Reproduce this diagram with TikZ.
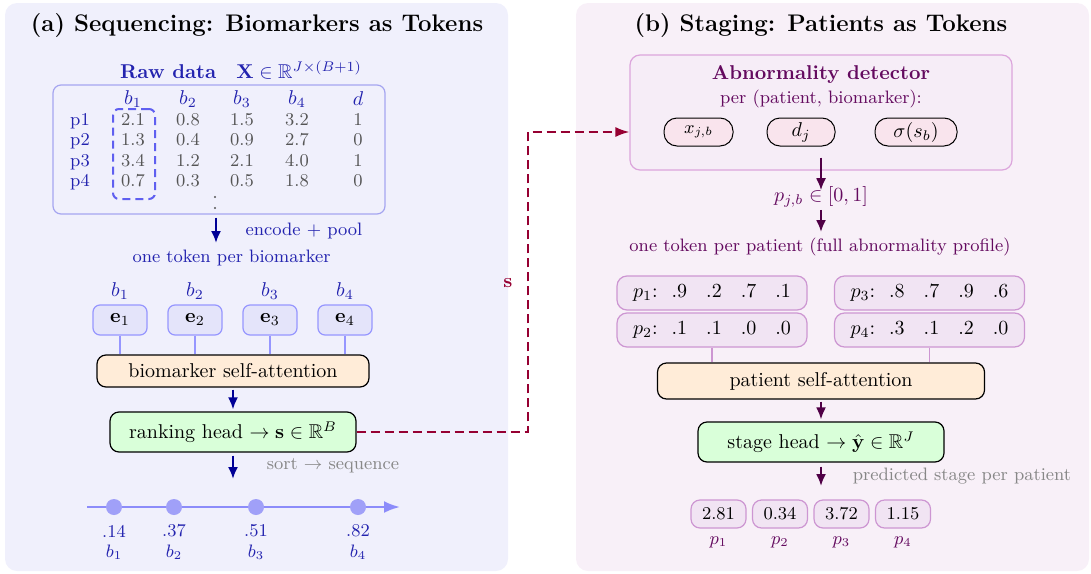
\documentclass[tikz,border=0pt]{standalone}
\usepackage{amsmath,amssymb}
\usetikzlibrary{arrows.meta}

\definecolor{panelA}{RGB}{240,240,252}
\definecolor{panelB}{RGB}{248,240,248}
\definecolor{txtblue}{RGB}{35,35,175}
\definecolor{arrblue}{RGB}{0,0,150}
\definecolor{tokfill}{RGB}{228,228,250}
\definecolor{tokline}{RGB}{150,150,255}
\definecolor{frameblue}{RGB}{165,165,240}
\definecolor{dashblue}{RGB}{95,95,240}
\definecolor{attnfill}{RGB}{255,236,216}
\definecolor{headfill}{RGB}{217,255,217}
\definecolor{seqblue}{RGB}{140,140,250}
\definecolor{seqdot}{RGB}{160,160,248}
\definecolor{linkred}{RGB}{150,0,50}
\definecolor{txtpurple}{RGB}{100,10,95}
\definecolor{arrpurple}{RGB}{80,0,70}
\definecolor{detline}{RGB}{220,165,220}
\definecolor{detfill}{RGB}{246,237,247}
\definecolor{inpfill}{RGB}{249,228,237}
\definecolor{patfill}{RGB}{241,228,243}
\definecolor{patline}{RGB}{205,150,210}
\definecolor{greytxt}{RGB}{135,135,135}
\definecolor{valgrey}{RGB}{85,85,85}

\newcommand{\ptokrow}[5]{$p_{#1}$:\hspace{7pt}#2\hspace{9.5pt}#3\hspace{9.5pt}#4\hspace{9.5pt}#5}

\tikzset{
  panel/.style={rounded corners=6pt},
  etok/.style={draw=tokline, fill=tokfill, rounded corners=3.5pt, line width=0.6pt,
    minimum width=27pt, minimum height=15pt, inner sep=0pt},
  blockbox/.style={draw=black, rounded corners=4.5pt, line width=0.6pt, inner sep=0pt},
  attn/.style={blockbox, fill=attnfill},
  headbox/.style={blockbox, fill=headfill},
  flow/.style={arrblue, line width=1pt, -{Latex[length=6pt,width=5pt]}},
  flowp/.style={arrpurple, line width=1pt, -{Latex[length=6pt,width=5pt]}},
  cell/.style={valgrey, font=\small, text height=1.5ex, text depth=0.2ex, inner sep=0pt},
  rowlbl/.style={txtblue, font=\small, text height=1.5ex, text depth=0.2ex, inner sep=0pt},
  bluetxt/.style={txtblue, inner sep=0pt},
  purptxt/.style={txtpurple, inner sep=0pt},
  inp/.style={draw=black, fill=inpfill, rounded corners=6.5pt, line width=0.5pt,
    minimum height=14pt, inner sep=0pt},
  pat/.style={draw=patline, fill=patfill, rounded corners=5pt, line width=0.6pt,
    minimum width=95pt, minimum height=17pt, inner sep=0pt},
  outbox/.style={draw=patline, fill=patfill, rounded corners=4.5pt, line width=0.6pt,
    minimum width=27.5pt, minimum height=14pt, inner sep=0pt, font=\small},
}

\begin{document}
\begin{tikzpicture}[x=0.5pt, y=-0.5pt]
\useasboundingbox (0,0) rectangle (1091,573);

% panels
\fill[panelA, panel] (5,3) rectangle (508,571);
\fill[panelB, panel] (576,3) rectangle (1089,571);

% ---------- (a) sequencing ----------
\node[font=\large\bfseries, inner sep=0pt] (ta) at (257,26) {(a) Sequencing: Biomarkers as Tokens};

\node[bluetxt] (rawttl) at (241,70) {\textbf{Raw data}\quad$\mathbf{X}\in\mathbb{R}^{J\times(B+1)}$};

\node[draw=frameblue, rounded corners=4pt, line width=0.6pt, minimum width=166pt,
      minimum height=64.5pt, inner sep=0pt] (raw) at (219,149.5) {};
\node[draw=dashblue, dashed, dash pattern=on 4pt off 2.5pt, line width=1pt, rounded corners=3pt,
      minimum width=21pt, minimum height=45pt, inner sep=0pt] (col1) at (134,154) {};

\foreach \c/\x in {1/133,2/188,3/242,4/297}
  \node[bluetxt] (hb\c) at (\x,99) {$b_{\c}$};
\node[bluetxt] (hd) at (358,99) {$d$};

\foreach \r/\y/\va/\vb/\vc/\vd/\ve in {1/120/2.1/0.8/1.5/3.2/1, 2/140/1.3/0.4/0.9/2.7/0,
                                      3/161/3.4/1.2/2.1/4.0/1, 4/181/0.7/0.3/0.5/1.8/0}{
  \node[rowlbl] (r\r) at (80,\y) {p\r};
  \node[cell] (v\r a) at (133,\y) {\va};
  \node[cell] (v\r b) at (188,\y) {\vb};
  \node[cell] (v\r c) at (242,\y) {\vc};
  \node[cell] (v\r d) at (297,\y) {\vd};
  \node[cell] (v\r e) at (358,\y) {\ve};
}
% further rows of the table
\fill[valgrey] (215,197) circle (0.6pt) (215,208) circle (0.6pt);

\coordinate (a1) at (216,243);
\draw[flow] ([yshift=-1.5pt]raw.south -| a1) -- (a1);
\node[bluetxt, font=\small] (enc) at (304,231) {encode + pool};
\node[bluetxt, font=\small] (tokdesc) at (231.5,258) {one token per biomarker};

\foreach \i/\x in {1/120,2/195,3/270,4/345}{
  \node[bluetxt] (lb\i) at (\x,291) {$b_{\i}$};
  \node[etok] (e\i) at (\x,320) {$\mathbf{e}_{\i}$};
}

\node[attn, minimum width=136pt, minimum height=16pt] (battn) at (233,371) {biomarker self-attention};
\foreach \i in {1,...,4}
  \draw[tokline, line width=0.6pt] (e\i.south) -- (e\i.south |- battn.north);

\node[headbox, minimum width=123pt, minimum height=20pt] (rank) at (233,432)
  {ranking head $\rightarrow \mathbf{s}\in\mathbb{R}^{B}$};
\draw[flow, shorten <=1pt, shorten >=1pt] (battn.south) -- (rank.north);

\coordinate (a2) at (233,479);
\draw[flow] ([yshift=-1.5pt]rank.south) -- (a2);
\node[greytxt, font=\small] (sortlbl) at (333,466) {sort $\rightarrow$ sequence};

% sorted sequence
\coordinate (ax0) at (87,507);
\coordinate (ax1) at (400,507);
\draw[seqblue, line width=1.2pt, -{Latex[length=8pt,width=6pt]}] (ax0) -- (ax1);
\foreach \i/\x/\v in {1/114/.14,2/174/.37,3/256/.51,4/358/.82}{
  \node[circle, fill=seqdot, minimum size=8pt, inner sep=0pt] (dot\i) at (\x,507) {};
  \node[bluetxt, font=\small] (sv\i) at (\x,531) {\v};
  \node[bluetxt, font=\small] (sb\i) at (\x,552) {$b_{\i}$};
}

% ---------- (b) staging ----------
\node[font=\large\bfseries, inner sep=0pt] (tb) at (821,26) {(b) Staging: Patients as Tokens};

\node[draw=detline, fill=detfill, rounded corners=5pt, line width=0.6pt,
      minimum width=191pt, minimum height=57.5pt, inner sep=0pt] (det) at (821,112.5) {};
\node[purptxt, font=\bfseries] (detttl) at (821,75) {Abnormality detector};
\node[purptxt, font=\small] (detsub) at (821,99) {per (patient, biomarker):};
\node[inp, minimum width=34.5pt] (xin) at (698.5,132) {\small$x_{j,b}$};
\node[inp, minimum width=34pt] (din) at (801,132) {$d_j$};
\node[inp, minimum width=41pt] (sin) at (916,132) {$\sigma(s_b)$};

% score vector passed on to the detector
\coordinate (sx) at (528,0);
\draw[linkred, line width=0.9pt, dash pattern=on 4.5pt off 2.5pt, -{Latex[length=7pt,width=5pt]}]
  (rank.east) -- (rank.east -| sx) -- (sx |- xin) -- (det.west |- xin);
\node[linkred, inner sep=0pt] (slbl) at (508,283) {$\mathbf{s}$};

\node[purptxt] (pjb) at (821,197) {$p_{j,b}\in[0,1]$};
\draw[flowp] ([yshift=6.5pt]det.south) -- ([yshift=-2pt]pjb.north);
\node[purptxt, font=\small] (ptok) at (820,247) {one token per patient (full abnormality profile)};
\coordinate (a3) at (821,232);
\draw[flowp] ([yshift=-1pt]pjb.south) -- (a3);

\node[pat] (p1) at (712,293) {\ptokrow{1}{.9}{.2}{.7}{.1}};
\node[pat] (p2) at (712,330) {\ptokrow{2}{.1}{.1}{.0}{.0}};
\node[pat] (p3) at (929.5,293) {\ptokrow{3}{.8}{.7}{.9}{.6}};
\node[pat] (p4) at (929.5,330) {\ptokrow{4}{.3}{.1}{.2}{.0}};

\node[attn, minimum width=163.5pt, minimum height=18pt] (pattn) at (821,381) {patient self-attention};
\draw[patline, line width=0.6pt] (p2.south) -- (p2.south |- pattn.north);
\draw[patline, line width=0.6pt] (p4.south) -- (p4.south |- pattn.north);

\node[headbox, minimum width=123pt, minimum height=20pt] (shead) at (821,442)
  {stage head $\rightarrow \hat{\mathbf{y}}\in\mathbb{R}^{J}$};
\draw[flowp, shorten <=1pt, shorten >=1pt] (pattn.south) -- (shead.north);

\coordinate (a4) at (821,486);
\draw[flowp] ([yshift=-2pt]shead.south) -- (a4);
\node[greytxt, font=\small] (predlbl) at (962,476) {predicted stage per patient};

\foreach \i/\x/\v in {1/718.5/2.81,2/780/0.34,3/841.5/3.72,4/903/1.15}{
  \node[outbox] (o\i) at (\x,514) {\v};
  \node[purptxt, font=\small] (op\i) at (\x,542) {$p_{\i}$};
}
\end{tikzpicture}
\end{document}
